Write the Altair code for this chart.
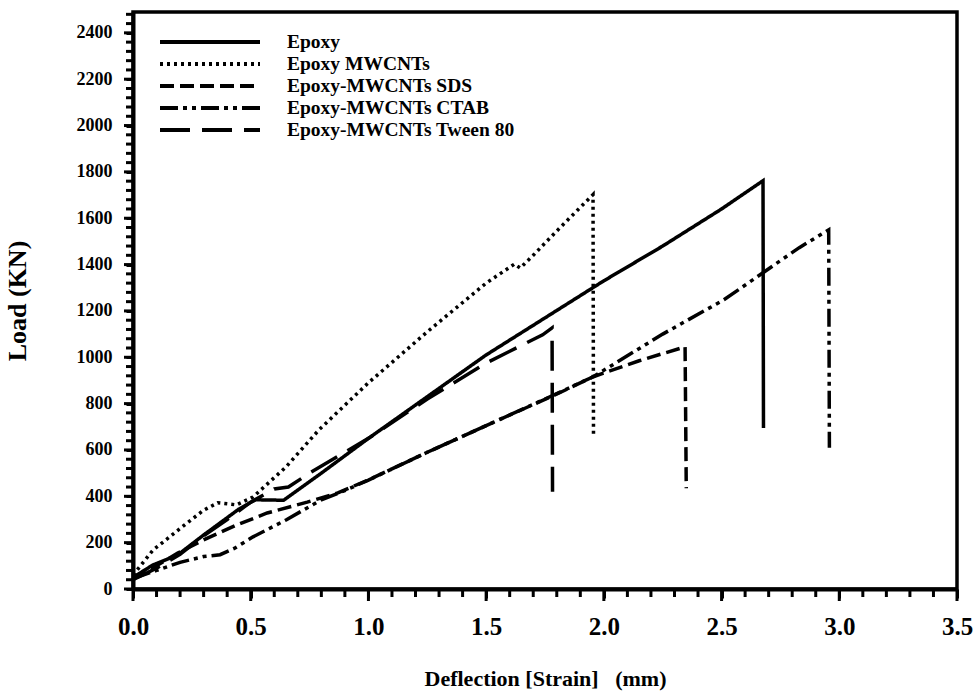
import altair as alt
import pandas as pd

# ---- data ----
series_names = ["Epoxy", "Epoxy MWCNTs", "Epoxy-MWCNTs SDS",
                "Epoxy-MWCNTs CTAB", "Epoxy-MWCNTs Tween 80"]

epoxy_x = [0, 0.085, 0.19, 0.30, 0.45, 0.52, 0.64, 0.80, 1.0, 1.25, 1.5, 1.75, 2.0, 2.25, 2.5, 2.676, 2.678]
epoxy_y = [50, 104, 147, 233, 345, 385, 383, 500, 650, 830, 1010, 1170, 1330, 1480, 1640, 1762, 695]

mwcnt_x = [0, 0.085, 0.23, 0.30, 0.36, 0.44, 0.51, 0.65, 0.79, 1.0, 1.25, 1.5, 1.62, 1.645, 1.7, 1.8, 1.954, 1.956]
mwcnt_y = [60, 168, 285, 340, 372, 363, 397, 527, 687, 890, 1110, 1320, 1402, 1385, 1440, 1545, 1702, 660]

sds_x = [0, 0.1, 0.19, 0.30, 0.44, 0.57, 0.74, 0.87, 1.0, 1.25, 1.5, 1.81, 1.955, 2.15, 2.345, 2.35]
sds_y = [50, 100, 155, 212, 276, 328, 375, 415, 471, 590, 705, 846, 916, 985, 1045, 435]

ctab_x = [0, 0.1, 0.2, 0.3, 0.37, 0.43, 0.51, 0.65, 0.8, 0.9, 1.0, 1.25, 1.5, 1.75, 1.955, 2.25, 2.51, 2.676, 2.83, 2.955, 2.958]
ctab_y = [45, 80, 115, 140, 148, 175, 225, 298, 385, 425, 470, 590, 705, 820, 916, 1100, 1248, 1365, 1473, 1550, 610]

tween_x = [0, 0.1, 0.2, 0.3, 0.4, 0.5, 0.6, 0.66, 0.75, 1.0, 1.25, 1.5, 1.74, 1.78, 1.782]
tween_y = [40, 90, 150, 230, 300, 375, 432, 440, 500, 650, 820, 975, 1097, 1127, 420]

dash_patterns = [[1, 0], [3, 4], [14, 6], [18, 5, 4, 5, 4, 5], [30, 12]]

# axis ticks: labelled majors, unlabelled minors
x_major_ticks = [0, 0.5, 1.0, 1.5, 2.0, 2.5, 3.0, 3.5]
y_major_ticks = [0, 200, 400, 600, 800, 1000, 1200, 1400, 1600, 1800, 2000, 2200, 2400]
x_minor_ticks = [round(i * 0.1, 1) for i in range(36) if i % 5 != 0]
y_minor_ticks = [i * 40 for i in range(63) if i % 5 != 0]

rows = []
for name, xs, ys in zip(series_names,
                        [epoxy_x, mwcnt_x, sds_x, ctab_x, tween_x],
                        [epoxy_y, mwcnt_y, sds_y, ctab_y, tween_y]):
    for i, (a, b) in enumerate(zip(xs, ys)):
        rows.append({"series": name, "defl": a, "load": b, "idx": i})
df = pd.DataFrame(rows)

FONT = "Liberation Serif"
xscale = alt.Scale(domain=[0, 3.5], nice=False, zero=False)
yscale = alt.Scale(domain=[0, 2490], nice=False, zero=False)

lines = alt.Chart(df).mark_line(color="black", strokeWidth=3.5).encode(
    x=alt.X("defl:Q", scale=xscale,
            axis=alt.Axis(values=x_major_ticks, format=".1f", orient="bottom",
                          title="Deflection [Strain]\u00a0\u00a0\u00a0(mm)",
                          labelFontSize=25, titleFontSize=22, labelFlush=False,
                          labelOverlap=False,
                          ticks=True, tickSize=9, tickWidth=3, tickColor="black",
                          labelPadding=16, titlePadding=29)),
    y=alt.Y("load:Q", scale=yscale,
            axis=alt.Axis(values=y_major_ticks, format="d", orient="left",
                          title="Load (KN)", labelFlush=False, labelOverlap=False,
                          labelFontSize=18, titleFontSize=26,
                          ticks=True, tickSize=7, tickWidth=3, tickColor="black",
                          labelPadding=14, titlePadding=46)),
    strokeDash=alt.StrokeDash("series:N",
                              scale=alt.Scale(domain=series_names, range=dash_patterns),
                              legend=alt.Legend(title=None, orient="none",
                                                legendX=25, legendY=19,
                                                symbolType="stroke", symbolSize=10000,
                                                symbolStrokeWidth=4, symbolStrokeColor="black",
                                                clipHeight=22, rowPadding=0,
                                                labelFont=FONT, labelFontSize=19.5,
                                                labelFontWeight="bold", labelColor="black",
                                                labelOffset=25, labelLimit=400)),
    detail="series:N",
    order="idx:Q",
)

# tick marks drawn from the tick arrays through the same scales (outside the frame)
def x_tick_layer(values, length):
    return alt.Chart(pd.DataFrame({"defl": values})).mark_tick(
        color="black", orient="vertical", thickness=3, size=length, opacity=1
    ).encode(
        x=alt.X("defl:Q", scale=xscale),
        y=alt.datum(0, scale=yscale),
        yOffset=alt.value(length / 2 + 1),
    )

def y_tick_layer(values, length):
    return alt.Chart(pd.DataFrame({"load": values})).mark_tick(
        color="black", orient="horizontal", thickness=3, size=length, opacity=1
    ).encode(
        y=alt.Y("load:Q", scale=yscale),
        x=alt.datum(0, scale=xscale),
        xOffset=alt.value(-(length / 2 + 1)),
    )

chart = alt.layer(
    lines,
    x_tick_layer(x_major_ticks, 11),
    x_tick_layer(x_minor_ticks, 7),
    y_tick_layer(y_major_ticks, 8),
    y_tick_layer(y_minor_ticks, 6),
).properties(
    width=824, height=577,
    autosize=alt.AutoSizeParams(type="none"),
    padding={"left": 133, "top": 12, "right": 23, "bottom": 105},
).configure_view(
    stroke="black", strokeWidth=3.5
).configure_axis(
    grid=False, domainColor="black", domainWidth=4,
    labelFont=FONT, labelFontWeight="bold", labelColor="black",
    titleFont=FONT, titleFontWeight="bold", titleColor="black",
)

chart.save("out.html", embed_options={"renderer": "svg", "actions": False})
